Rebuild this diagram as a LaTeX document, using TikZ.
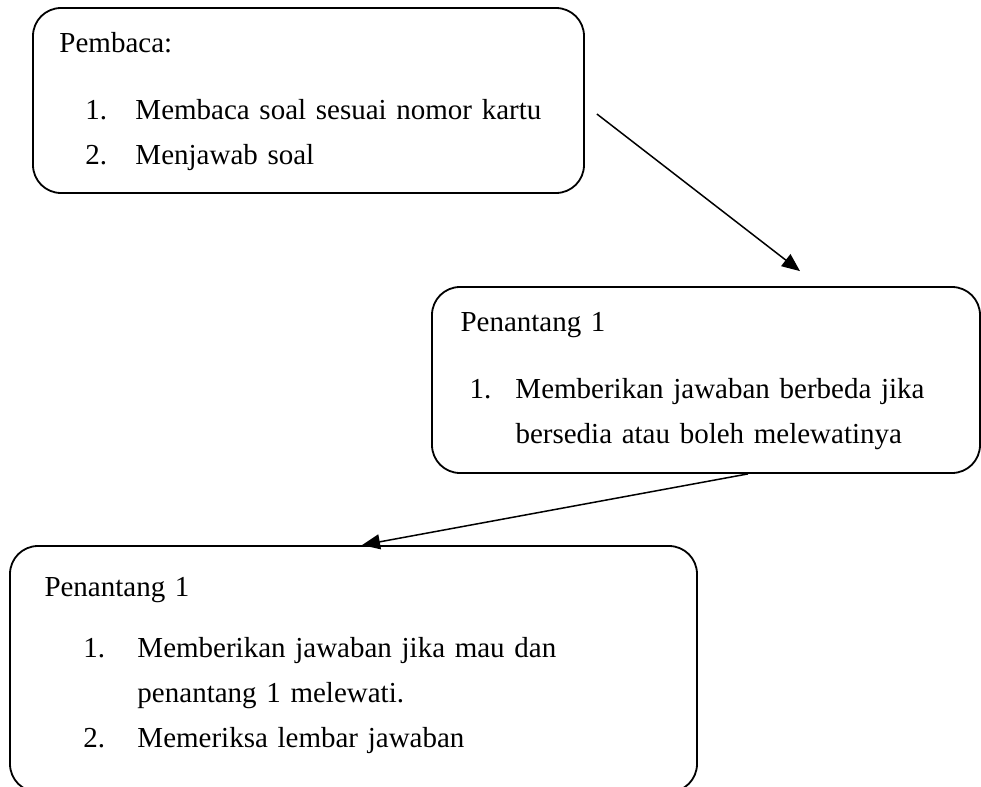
\documentclass[tikz,border=0pt]{standalone}
\usepackage{fontspec}
\setmainfont{Liberation Serif}
\usepackage{tikz}
\usetikzlibrary{arrows.meta, positioning}

\begin{document}
\begin{tikzpicture}[
            x=0.5pt, y=-0.5pt,                 % una unidad = un pixel de la imagen
            box/.style={
                rectangle,
                draw=black,
                line width=0.9pt,
                rounded corners=14pt,
                inner sep=0pt
            },
            txt/.style={
                inner sep=0pt,
                text width=300pt,
                align=left,
                anchor=base west,
                font=\fontsize{14.5}{22.5}\selectfont
            },
            line/.style={
                draw,
                line width=0.75pt,
                -{Triangle[length=9pt, width=7.5pt]}
            }
        ]
            \useasboundingbox (0,0) rectangle (981,787);

            % --- CAJAS ---
            \node [box, minimum width=275.5pt, minimum height=92.5pt] (pembaca) at (308.5,100.5) {};
            \node [box, minimum width=274pt, minimum height=93pt] (penantangA) at (706,380) {};
            \node [box, minimum width=343.5pt, minimum height=123pt] (penantangB) at (353.5,669) {};

            % --- TEXTOS ---
            \node [txt, below right=22.5pt and 13.5pt of pembaca.north west, anchor=base west] (tpembaca) {
                Pembaca:\\[11pt]
                \hspace*{13pt}\makebox[25pt][l]{1.}Membaca soal sesuai nomor kartu\\
                \hspace*{13pt}\makebox[25pt][l]{2.}Menjawab soal
            };

            \node [txt, below right=22.5pt and 14.5pt of penantangA.north west, anchor=base west] (tpenantangA) {
                Penantang 1\\[11pt]
                \hspace*{4.5pt}\makebox[23pt][l]{1.}Memberikan jawaban berbeda jika\\
                \hspace*{27.5pt}bersedia atau boleh melewatinya
            };

            \node [txt, below right=25.5pt and 17.5pt of penantangB.north west, anchor=base west] (tpenantangB) {
                Penantang 1\\[8pt]
                \hspace*{19.5pt}\makebox[27pt][l]{1.}Memberikan jawaban jika mau dan\\
                \hspace*{46.5pt}penantang 1 melewati.\\
                \hspace*{19.5pt}\makebox[27pt][l]{2.}Memeriksa lembar jawaban
            };

            % --- ENLACES ---
            \coordinate (desde) at ([shift={(12,13.5)}]pembaca.east);
            \coordinate (hasta) at ([shift={(94,-15)}]penantangA.north);
            \path [line] (desde) -- (hasta);
            \path [line] ([xshift=21pt]penantangA.south) -- ([xshift=4.25pt]penantangB.north);
        \end{tikzpicture}
\end{document}
